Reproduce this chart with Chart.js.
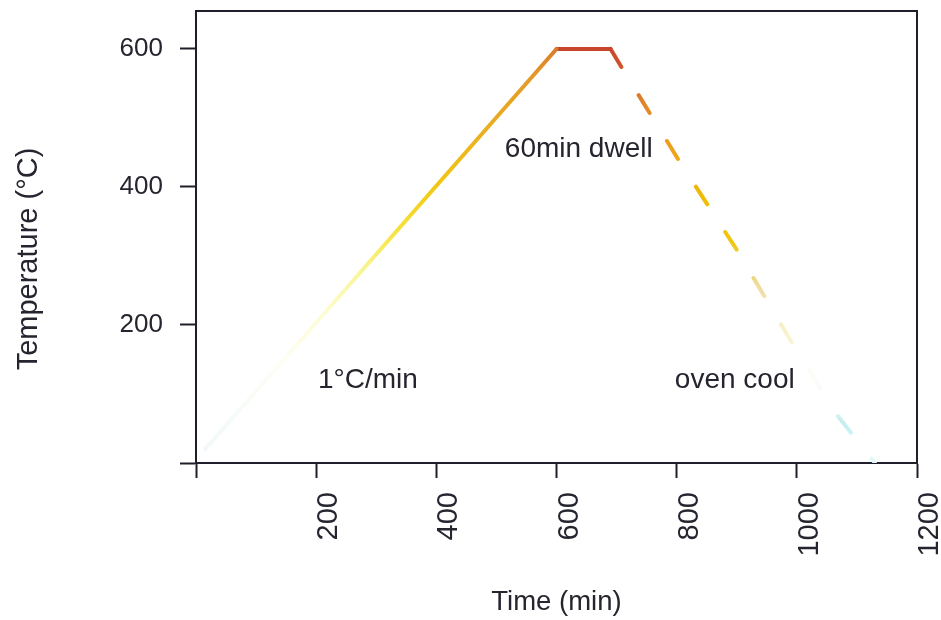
<!DOCTYPE html>
<html>
<head>
<meta charset="utf-8">
<title>Firing profile</title>
<script src="https://cdn.jsdelivr.net/npm/chart.js@4.4.1/dist/chart.umd.min.js"></script>
<style>
  html, body { margin: 0; padding: 0; background: #ffffff; }
  canvas { display: block; }
</style>
</head>
<body>
<canvas id="chart" width="941" height="620"></canvas>
<script>
// values
const rampTime = [15, 600];
const rampTemp = [20, 600];
const dwellTime = [600, 690];
const dwellTemp = [600, 600];
const coolTime = [690, 712, 804, 900, 988, 1063, 1130];
const coolTemp = [600, 568, 438, 309, 180, 74, 0];

const xTicks = [0, 200, 400, 600, 800, 1000, 1200];
const xTickLabels = ['', '200', '400', '600', '800', '1000', '1200'];
const yTicks = [0, 200, 400, 600];
const yTickLabels = ['', '200', '400', '600'];

const notes = [
    { text: '1°C/min', x: 203, y: 120 },
    { text: '60min dwell', x: 514, y: 454 },
    { text: 'oven cool', x: 797, y: 120 },
];

const ink = '#1f1f2c';
const textColor = '#25252f';
const fontFamily = '"Liberation Sans", Arial, Helvetica, sans-serif';

const toPoints = (xs, ys) => xs.map((x, i) => ({ x: x, y: ys[i] }));

// vertical colour ramp keyed on temperature
function tempGradient(stops) {
    return function (context) {
        const chart = context.chart;
        if (!chart.chartArea) return null;
        const y = chart.scales.y;
        const g = chart.ctx.createLinearGradient(0, y.getPixelForValue(0), 0, y.getPixelForValue(600));
        stops.forEach(s => g.addColorStop(s[0] / 600, s[1]));
        return g;
    };
}

const rampStops = [
    [0, '#eef9f9'], [150, '#fefef4'], [220, '#fcfcd2'], [280, '#f9f592'],
    [330, '#f6e544'], [400, '#f1c812'], [480, '#eab020'], [560, '#e49a28'], [600, '#dc7a2c']
];
const coolStops = [
    [0, '#e4fafa'], [60, '#c4eeee'], [95, '#f6fcfa'], [130, '#fdfdf4'], [190, '#f8f2cc'],
    [255, '#efdca0'], [320, '#efc612'], [380, '#efbe06'], [450, '#eea31a'],
    [520, '#e2862a'], [565, '#d05a2c'], [600, '#c9482d']
];

const framePlugin = {
    id: 'frame',
    afterDraw(chart) {
        const { ctx, chartArea, scales } = chart;
        ctx.save();
        ctx.strokeStyle = ink;
        ctx.lineWidth = 2;
        ctx.beginPath();
        ctx.moveTo(chartArea.left, chartArea.top);
        ctx.lineTo(chartArea.right, chartArea.top);
        ctx.lineTo(chartArea.right, chartArea.bottom);
        ctx.stroke();

        ctx.fillStyle = textColor;
        ctx.font = '28px ' + fontFamily;
        ctx.textBaseline = 'middle';
        ctx.textAlign = 'left';
        notes.forEach(n => {
            ctx.fillText(n.text, scales.x.getPixelForValue(n.x), scales.y.getPixelForValue(n.y));
        });

        // y axis title
        ctx.font = '29px ' + fontFamily;
        ctx.translate(29, 259);
        ctx.rotate(-Math.PI / 2);
        ctx.textAlign = 'center';
        ctx.fillText('Temperature (°C)', 0, 0);
        ctx.restore();
    }
};

new Chart(document.getElementById('chart'), {
    type: 'line',
    data: {
        datasets: [
            {
                label: 'ramp',
                data: toPoints(rampTime, rampTemp),
                borderColor: tempGradient(rampStops),
                borderWidth: 4,
                borderCapStyle: 'round',
            },
            {
                label: 'dwell',
                data: toPoints(dwellTime, dwellTemp),
                borderColor: '#c9452d',
                borderWidth: 4,
                borderCapStyle: 'round',
            },
            {
                label: 'cool',
                data: toPoints(coolTime, coolTemp),
                borderColor: tempGradient(coolStops),
                borderWidth: 4,
                borderCapStyle: 'round',
                borderDash: [21, 33],
            },
        ]
    },
    options: {
        responsive: false,
        animation: false,
        layout: { padding: { top: 11, right: 24, left: 0, bottom: 0 } },
        elements: { point: { radius: 0 }, line: { tension: 0 } },
        plugins: { legend: { display: false }, tooltip: { enabled: false } },
        scales: {
            x: {
                type: 'linear',
                min: 0,
                max: 1200,
                afterBuildTicks: s => { s.ticks = xTicks.map(v => ({ value: v })); },
                afterFit: s => { s.height = 157; s.paddingLeft = 0; s.paddingRight = 0; },
                ticks: {
                    autoSkip: false,
                    maxRotation: 90,
                    minRotation: 90,
                    padding: 14,
                    labelOffset: 13,
                    color: textColor,
                    font: { family: fontFamily, size: 29 },
                    callback: (v, i) => xTickLabels[i],
                },
                grid: { drawOnChartArea: false, tickLength: 15, tickWidth: 2, tickColor: ink },
                border: { color: ink, width: 2 },
                title: {
                    display: true,
                    text: 'Time (min)',
                    color: textColor,
                    font: { family: fontFamily, size: 27.5 },
                    padding: { top: 0, bottom: 1 },
                },
            },
            y: {
                min: 0,
                max: 655,
                afterBuildTicks: s => { s.ticks = yTicks.map(v => ({ value: v })); },
                afterFit: s => { s.width = 196; s.paddingTop = 0; s.paddingBottom = 0; },
                ticks: {
                    padding: 17,
                    color: textColor,
                    font: { family: fontFamily, size: 26 },
                    callback: (v, i) => yTickLabels[i],
                },
                grid: { drawOnChartArea: false, tickLength: 16, tickWidth: 2, tickColor: ink },
                border: { color: ink, width: 2 },
            }
        }
    },
    plugins: [framePlugin]
});
</script>
</body>
</html>
